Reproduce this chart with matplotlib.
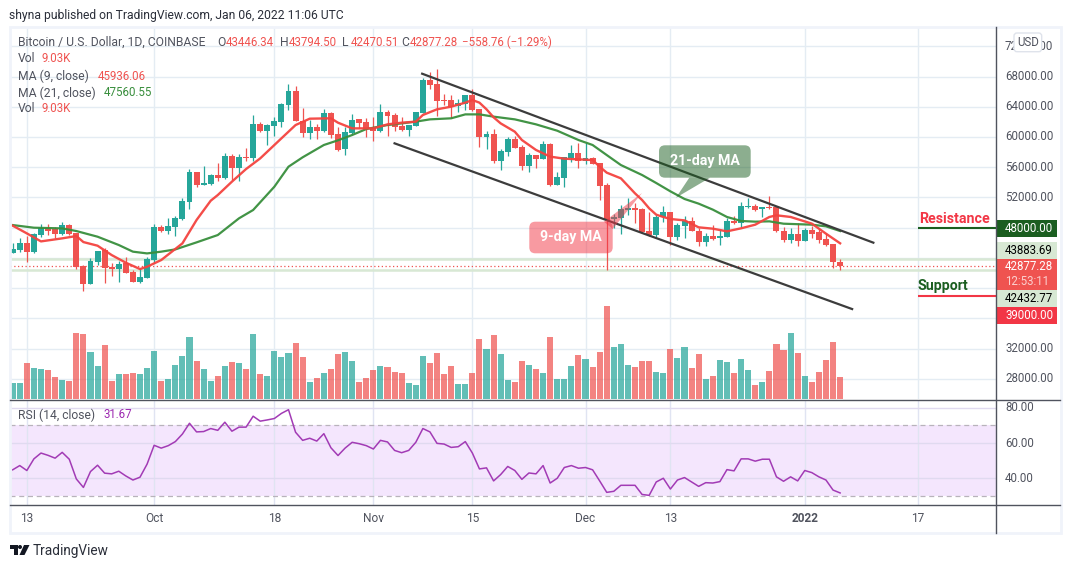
import matplotlib
matplotlib.use('Agg')
import matplotlib.pyplot as plt
from matplotlib.patches import FancyBboxPatch, Polygon, Rectangle

W, H = 1071, 568
plt.rcParams['font.family'] = ['Roboto', 'DejaVu Sans']

# daily candles, index 0 = Sep 11 2021
opens = [44690, 45050, 45930, 44830, 47030, 48000, 47780, 47160, 48310, 47250,
         42930, 40590, 43500, 45050, 42840, 42580, 43280, 42140, 40810, 41390,
         43720, 48040, 47520, 48090, 49150, 51440, 55370, 53690, 53780, 54970,
         54530, 57480, 55940, 57310, 57260, 61720, 60830, 61490, 62020, 64280,
         66080, 62160, 60570, 61320, 60830, 63170, 60390, 58450, 60480, 62380,
         61980, 61190, 60790, 63300, 62910, 61450, 60920, 61500, 63220, 67540,
         67010, 64890, 64890, 64140, 64360, 65550, 63660, 60000, 60390, 56820,
         58050, 59730, 58670, 56160, 57610, 57080, 59070, 53640, 54620, 57220,
         57880, 56780, 57220, 56550, 53640, 49150, 49280, 50340, 50600, 50470,
         47510, 47030, 49370, 50120, 46730, 48270, 48890, 47560, 46060, 46950,
         46590, 46810, 48930, 48580, 50780, 50920, 50470, 50740, 50780, 47560,
         46420, 47210, 46200, 47740, 47390, 46550, 45840, 43446.34]
closes = [45130, 45930, 44780, 47160, 48000, 47560, 47210, 48310, 47210, 42840,
          40590, 43550, 44870, 42660, 42580, 43150, 42050, 40810, 41470, 43810,
          48040, 47520, 48220, 49280, 51530, 55370, 53650, 53870, 54970, 54570,
          57480, 55940, 57310, 57220, 61720, 60830, 61580, 62110, 64360, 66080,
          62160, 60570, 61320, 60830, 63170, 60300, 58280, 60660, 62240, 61850,
          61050, 60830, 63300, 62770, 61360, 60920, 61580, 63300, 67540, 66880,
          64800, 64800, 64010, 64500, 65550, 63570, 60040, 60390, 56820, 58140,
          59730, 58580, 56160, 57610, 57080, 59070, 53640, 54700, 57350, 57880,
          56820, 57220, 56420, 53510, 49020, 49410, 50470, 50600, 50380, 47380,
          46990, 49410, 50120, 46730, 48360, 48890, 47520, 46060, 46950, 46550,
          46950, 48890, 48580, 50920, 50920, 50390, 50740, 50650, 47520, 46420,
          47210, 46200, 47740, 47210, 46420, 45760, 43420, 42877.28]
highs = [46020, 46590, 46900, 47250, 48490, 48490, 48130, 48750, 48440, 47340,
         43020, 43940, 44910, 45270, 43280, 43630, 44160, 42400, 42620, 44080,
         48490, 48350, 49240, 49540, 51880, 55760, 55370, 56160, 55100, 56560,
         57830, 57750, 57750, 58540, 62910, 62020, 61720, 62690, 64540, 67010,
         66740, 63830, 62250, 61720, 63700, 63300, 61360, 61360, 63040, 62380,
         62470, 62690, 64360, 63570, 63130, 62690, 61580, 63300, 67760, 68550,
         68990, 65640, 65550, 64980, 65550, 66300, 63660, 60790, 61050, 58410,
         59950, 60130, 58940, 57830, 57610, 59470, 59250, 55410, 57400, 58980,
         59160, 59160, 57400, 56550, 53870, 49760, 51000, 51930, 51220, 50560,
         50030, 49680, 50920, 50120, 48620, 49590, 49370, 47960, 47300, 48400,
         47740, 49280, 49590, 51450, 51970, 51180, 50740, 52150, 50920, 48090,
         47960, 48620, 47960, 48180, 47960, 47300, 45840, 43794.50]
lows = [44690, 44830, 43500, 44650, 46720, 47030, 46590, 47030, 47030, 42530,
        39670, 40590, 43060, 40720, 41610, 40860, 42050, 40810, 40720, 41390,
        43280, 47470, 47160, 46940, 49020, 50470, 53420, 53650, 53650, 54220,
        54440, 54310, 54180, 56860, 56860, 60700, 58940, 60130, 61360, 63570,
        62160, 59950, 59780, 59690, 60700, 59910, 58190, 57620, 60390, 61140,
        60040, 59470, 60660, 60130, 60790, 60830, 60130, 61500, 63220, 66300,
        62820, 64180, 62470, 63350, 63570, 63440, 58720, 58410, 56600, 55630,
        57480, 58500, 55630, 55410, 55940, 57080, 53510, 53640, 53420, 56690,
        55940, 56420, 56420, 51660, 42400, 47910, 47160, 49680, 48620, 47380,
        46850, 46810, 48710, 45760, 46330, 46640, 47520, 45540, 45540, 46420,
        45670, 46770, 48530, 48090, 50560, 50250, 49420, 50470, 47390, 46150,
        45980, 45620, 46200, 46640, 45980, 45540, 42620, 42470.51]

volumes = [6.6, 6.6, 14.7, 12.7, 12.3, 11.9, 9.0, 7.8, 7.4, 26.8,
           26.4, 19.1, 13.5, 22.0, 7.4, 10.2, 10.2, 10.6, 10.2, 12.7,
           19.5, 7.4, 8.2, 13.9, 17.5, 25.2, 15.5, 12.3, 7.4, 9.4,
           13.5, 15.1, 14.7, 12.3, 26.4, 10.2, 9.4, 19.5, 17.1, 18.7,
           22.8, 17.1, 7.0, 8.6, 10.6, 12.3, 18.3, 19.1, 15.5, 7.0,
           8.6, 11.9, 13.5, 13.1, 11.1, 10.6, 6.6, 5.8, 17.5, 14.7,
           18.7, 10.2, 13.5, 6.2, 6.2, 10.6, 24.4, 20.4, 26.0, 18.3,
           7.8, 7.0, 15.5, 13.9, 12.3, 10.6, 25.2, 8.2, 8.2, 13.5,
           17.9, 16.3, 13.1, 19.1, 37.7, 21.2, 22.4, 13.9, 13.1, 15.5,
           15.5, 11.1, 10.6, 20.4, 16.7, 21.2, 12.7, 18.3, 8.2, 9.4,
           15.9, 15.1, 10.6, 16.3, 11.9, 5.8, 7.0, 11.5, 22.4, 20.0,
           26.8, 18.7, 9.4, 7.0, 11.1, 15.9, 23.2, 9.03]

rsi = [44.8, 47.2, 44.4, 51.0, 54.3, 53.0, 51.4, 54.7, 50.8, 39.6,
       34.8, 43.8, 47.4, 42.9, 42.5, 44.0, 41.3, 39.0, 40.6, 48.0,
       58.7, 57.1, 58.5, 60.8, 65.1, 71.2, 66.3, 66.5, 68.2, 67.2,
       71.8, 66.7, 69.0, 69.0, 75.2, 72.4, 73.1, 73.9, 76.8, 78.9,
       66.1, 61.5, 62.7, 61.1, 65.3, 57.3, 52.9, 57.1, 60.4, 59.6,
       58.5, 56.6, 61.5, 60.6, 55.8, 54.5, 55.8, 60.4, 68.2, 66.3,
       59.8, 59.4, 57.5, 57.9, 60.8, 54.3, 45.3, 45.9, 38.5, 42.1,
       46.7, 44.4, 39.4, 43.0, 42.5, 47.2, 37.3, 40.0, 46.1, 47.2,
       45.7, 46.1, 44.8, 38.5, 32.0, 32.6, 36.0, 36.0, 36.0, 30.8,
       30.3, 37.9, 40.0, 33.9, 39.0, 40.4, 37.9, 35.4, 37.5, 37.3,
       38.1, 44.9, 44.2, 51.0, 51.0, 49.7, 50.8, 50.8, 40.8, 38.3,
       40.8, 38.5, 44.4, 43.2, 40.8, 39.0, 33.3, 31.67]

ma9_x = [0, 2, 4, 7, 9, 10, 12, 14, 16, 18, 19, 21, 24, 26, 28, 29, 31, 33, 35, 38, 40, 42, 45,
         46, 48, 49, 51, 53, 55, 57, 58, 60, 62, 64, 65, 66, 67, 68, 69, 71, 72, 74, 76, 78, 80,
         82, 83, 84, 86, 88, 89, 90, 91, 92, 93, 95, 97, 99, 101, 103, 105, 107, 108, 110, 113,
         115, 117]
ma9_y = [48270, 47250, 46190, 46590, 46900, 46100, 45620, 44380, 43370, 42530, 42840, 43720,
         45930, 49020, 51570, 52320, 54090, 55760, 57170, 59820, 61580, 62420, 62470,
         61890, 61140, 61140, 61140, 61670, 61890, 62030, 62910, 63660, 64010, 64540, 64890,
         64540, 63660, 62600, 61800, 60700, 59600, 58280, 57400, 57130, 57040,
         56950, 56070, 55280, 54530, 52540, 51660, 50560, 49720, 49420, 49150, 48970, 48050,
         47870, 47520, 47920, 48400, 49420, 49640, 49420, 48540, 47210, 45936.06]
ma21_x = [0, 3, 7, 9, 12, 15, 17, 19, 21, 23, 26, 29, 32, 34, 37, 39, 41, 44, 46,
          48, 50, 53, 55, 57, 59, 62, 64, 66, 68, 71, 74, 77, 80, 82, 84, 86, 89, 91,
          93, 95, 97, 99, 101, 103, 105, 107, 109, 113, 115, 117]
ma21_y = [48350, 48000, 47910, 47560, 46810, 45710, 44830, 44600, 44830, 45130, 46060, 47030,
          49240, 50340, 53420, 56070, 57310, 58940, 59560,
          60260, 61050, 61580, 61800, 62030, 62330, 62470, 62990, 62990, 62690, 62330, 61670,
          60830, 59600, 58940, 57610, 56290, 54970, 53910,
          52810, 51800, 51180, 50390, 49420, 48890, 48800, 48840, 48530, 48400, 48180, 47560.55]

date_ticks = [2, 20, 37, 51, 65, 81, 93, 112, 128]
date_labels = ['13', 'Oct', '18', 'Nov', '15', 'Dec', '13', '2022', '17']
price_grid = [28000, 32000, 36000, 40000, 44000, 48000, 52000, 56000, 60000, 64000, 68000, 72000]
price_labels = [28000, 32000, 52000, 56000, 60000, 64000, 68000, 72000]
rsi_grid = [40, 60, 80]
res_level = 48000
sup_level = 39000
last_close = 42877.28
prev_band = 43883.69
low_band = 42432.77
# trend channel, two ends per line
upper_x, upper_y = [57.9, 121.7], [68370, 46020]
lower_x, lower_y = [54.0, 118.7], [59160, 37240]

GREEN = '#26a69a'
RED = '#ef5350'
GRID = '#e4ecf3'
TXT = '#50535e'
XLIM = (-0.38, 139.0)
PRICE_LIM = (25302, 74548)
LEG = 8.7
NUM = 8.3


def box(l, t, r, b):
    return [l / W, 1 - b / H, (r - l) / W, (b - t) / H]


fig = plt.figure(figsize=(W / 100, H / 100), dpi=100, facecolor='white')

# grid goes on its own axes so the volume bars sit over it
ax_bg = fig.add_axes(box(10, 27, 995.7, 399.3), zorder=1)
ax_bg.set_xlim(XLIM)
ax_bg.set_ylim(PRICE_LIM)
ax_bg.axis('off')
ax_bg.vlines(date_ticks, *PRICE_LIM, color=GRID, lw=1.0)
ax_bg.hlines(price_grid, *XLIM, color=GRID, lw=1.0)

ax_vol = fig.add_axes(box(10, 27, 995.7, 399.3), zorder=2)
ax_vol.patch.set_visible(False)
ax_vol.axis('off')
x = list(range(len(closes)))
colors = [GREEN if c >= o else RED for o, c in zip(opens, closes)]
ax_vol.bar(x, volumes, width=0.86, color=colors, alpha=0.72, lw=0)
ax_vol.set_xlim(XLIM)
ax_vol.set_ylim(0, 150.5)

ax = fig.add_axes(box(10, 27, 995.7, 399.3), zorder=3)
ax.patch.set_visible(False)
ax.axis('off')
ax.set_xlim(XLIM)
ax.set_ylim(PRICE_LIM)
ax.hlines([prev_band, low_band], *XLIM, color='#d8e8d4', lw=1.8, zorder=1)
ax.hlines(last_close, *XLIM, color=RED, lw=0.9, linestyles=(0, (1, 2)), zorder=1)
ax.vlines(x, lows, highs, color=colors, lw=0.9, zorder=2)
ax.bar(x, [abs(c - o) for o, c in zip(opens, closes)],
       bottom=[min(o, c) for o, c in zip(opens, closes)],
       width=0.84, color=colors, lw=0, zorder=3)
ax.plot(ma21_x, ma21_y, color='#388e3c', lw=1.6, alpha=0.95, zorder=4)
ax.plot(ma9_x, ma9_y, color='#f4433f', lw=1.7, alpha=0.95, zorder=5)
ax.plot(upper_x, upper_y, color='#3c3c3c', lw=1.6, zorder=6)
ax.plot(lower_x, lower_y, color='#3c3c3c', lw=1.6, zorder=6)
ax.hlines(res_level, date_ticks[-1], XLIM[1], color='#1b5e20', lw=1.5, zorder=6)
ax.hlines(sup_level, date_ticks[-1], XLIM[1], color='#f23645', lw=1.5, zorder=6)

# rsi pane
ax_rsi = fig.add_axes(box(10, 400, 995.7, 505.3), zorder=2)
ax_rsi.axis('off')
ax_rsi.set_xlim(XLIM)
ax_rsi.set_ylim(24.66, 84.4)
ax_rsi.axhspan(30, 70, color='#f4e6fd', lw=0, zorder=0)
ax_rsi.vlines(date_ticks, 24.66, 84.4, color='#e0e4f2', lw=1.0, zorder=1)
ax_rsi.hlines(rsi_grid, *XLIM, color='#e0daf0', lw=1.0, zorder=1)
ax_rsi.hlines([30, 70], *XLIM, color='#b8b3bb', lw=0.9, linestyles=(0, (4, 3)), zorder=2)
ax_rsi.plot(x, rsi, color='#a23bb5', lw=1.1, zorder=3)

# overlay in pixels for the tv chrome
ov = fig.add_axes([0, 0, 1, 1], zorder=5)
ov.patch.set_visible(False)
ov.axis('off')
ov.set_xlim(0, W)
ov.set_ylim(H, 0)


def txt(px, py, s, color=TXT, size=LEG, **kw):
    kw.setdefault('va', 'center')
    kw.setdefault('ha', 'left')
    return ov.text(px, py, s, color=color, fontsize=size, **kw)


# outer frame and pane rules
ov.add_patch(Rectangle((9.5, 27), 1051, 506, fill=False, ec='#f0f3fa', lw=2))
ov.plot([995.7, 995.7], [27, 533], color=TXT, lw=1.0)
ov.plot([10, 1060], [399.5, 399.5], color=TXT, lw=1.0)
ov.plot([10, 1060], [505.3, 505.3], color=TXT, lw=1.0)

txt(9, 15, 'shyna published on TradingView.com, Jan 06, 2022 11:06 UTC', color='#2a2e39', size=8.7)

# legend block
txt(18, 42, 'Bitcoin / U.S. Dollar, 1D, COINBASE')
for lx, letter, val in [(217, 'O', '43446.34'), (280, 'H', '43794.50'),
                        (342, 'L', '42470.51'), (401, 'C', '42877.28')]:
    txt(lx, 42, letter)
    txt(lx + 9, 42, val, color=RED, size=NUM)
txt(462, 42, '\u2212558.76 (\u22121.29%)', color=RED, size=NUM)
txt(18, 59, 'Vol')
txt(41, 59, '9.03K', color=RED, size=NUM)
txt(18, 76, 'MA (9, close)')
txt(98, 76, '45936.06', color=RED, size=NUM)
txt(18, 93, 'MA (21, close)')
txt(104, 93, '47560.55', color='#388e3c', size=NUM)
txt(18, 109, 'Vol')
txt(41, 109, '9.03K', color=RED, size=NUM)
txt(18, 415, 'RSI (14, close)')
txt(103, 415, '31.67', color='#9c27b0', size=NUM)

# right scale, labels placed through the price axis
for p in price_labels:
    py = ax.transData.transform((0, p))[1]
    txt(1005, H - py, f'{p:.2f}', size=NUM)
for r in rsi_grid:
    py = ax_rsi.transData.transform((0, r))[1]
    txt(1005, H - py, f'{r:.2f}', size=NUM)

# price tags stacked on the scale
tags = [(220, 237.3, '#1b5e20', '48000.00', 'white'),
        (242, 259, '#d7e8d3', '43883.69', 'black'),
        (259, 289.7, RED, '42877.28', 'white'),
        (289.7, 306.7, '#d7e8d3', '42432.77', 'black'),
        (306.7, 324, '#f23645', '39000.00', 'white')]
for t, b, c, s, tc in tags:
    ov.add_patch(Rectangle((996, t), 61, b - t, color=c, lw=0))
    ty = (t + b) / 2 if c != RED else 267
    txt(1005, ty, s, color=tc, size=NUM)
txt(1005, 281.7, '12:53:11', color='#fbd0cf', size=NUM)

# button covers the 72000 label like on the site
ov.add_patch(FancyBboxPatch((1014, 33), 27.7, 18.7, boxstyle='round,pad=0,rounding_size=3',
                            fc='white', ec='#dfe3eb', lw=1, zorder=4))
txt(1027.8, 42.5, 'USD', ha='center', size=8.3, zorder=5)

# date labels
for d, lab in zip(date_ticks, date_labels):
    px = ax.transData.transform((d, 0))[0]
    txt(px, 519, lab, ha='center', size=NUM + 0.3, fontweight='bold' if lab == '2022' else 'normal')

# drawings on the chart
txt(919, 219, 'Resistance', color='#f23645', size=10.2, fontweight='bold')
txt(918, 285.6, 'Support', color='#1b5e20', size=10.2, fontweight='bold')

ov.add_patch(FancyBboxPatch((659, 145.3), 91.7, 32.4, boxstyle='round,pad=0,rounding_size=6',
                            fc='#1b5e20', alpha=0.5, lw=0))
ov.add_patch(Polygon([(689.3, 177.7), (710, 177.7), (676, 197.7)], fc='#1b5e20', alpha=0.5, lw=0))
txt(704.8, 161.3, '21-day MA', color='white', ha='center', size=10.2, fontweight='bold')
ov.add_patch(FancyBboxPatch((529.3, 221.7), 83.4, 31.6, boxstyle='round,pad=0,rounding_size=6',
                            fc='#f23645', alpha=0.5, lw=0))
ov.add_patch(Polygon([(604, 221.7), (612.7, 229), (642, 193)], fc='#f23645', alpha=0.5, lw=0))
txt(571, 237.5, '9-day MA', color='white', ha='center', size=10.2, fontweight='bold')

# footer logo
ov.add_patch(Polygon([(10, 545), (18, 545), (18, 555), (14, 555), (14, 549), (10, 549)], fc='#131722', lw=0))
ov.add_patch(plt.Circle((20, 547), 2, fc='#131722', lw=0))
ov.add_patch(Polygon([(24, 545), (29.5, 545), (24.5, 555), (19.5, 555)], fc='#131722', lw=0))
txt(33, 551, 'TradingView', color='#2a2e39', size=9.8)

fig.savefig('out.png', dpi=100)
